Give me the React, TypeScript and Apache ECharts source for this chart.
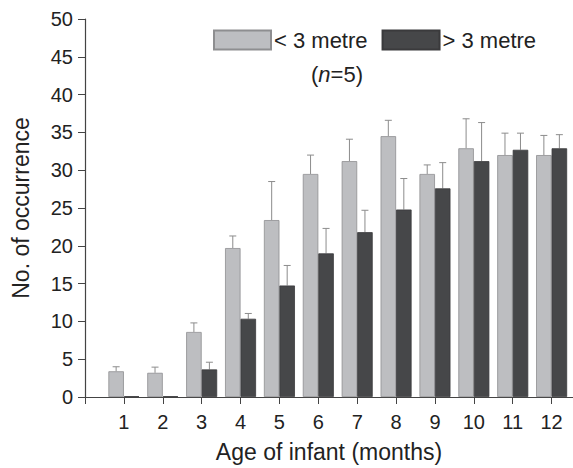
import React, { useEffect, useRef } from "react";
import * as echarts from "echarts";

const months = [1, 2, 3, 4, 5, 6, 7, 8, 9, 10, 11, 12];
const below3Mean = [3.4, 3.2, 8.6, 19.7, 23.4, 29.5, 31.2, 34.5, 29.5, 32.9, 32.0, 32.0];
const below3Top = [4.0, 3.95, 9.8, 21.3, 28.5, 32.0, 34.1, 36.6, 30.7, 36.8, 34.9, 34.6];
const above3Mean = [0.1, 0.1, 3.65, 10.35, 14.75, 19.0, 21.8, 24.8, 27.6, 31.2, 32.7, 32.9];
const above3Top = [0.1, 0.1, 4.6, 11.05, 17.4, 22.3, 24.7, 28.9, 31.0, 36.3, 34.9, 34.7];
const xTickValues = [0, 1, 2, 3, 4, 5, 6, 7, 8, 9, 10, 11, 12];
const seriesNames = ["< 3 metre", "> 3 metre"];

const FONT = "Liberation Sans, Arial, sans-serif";
const BAR_W = 15.5;

function errorSeries(means: number[], tops: number[], sign: number) {
  return {
    type: "custom",
    silent: true,
    z: 1,
    data: months.map((m, i) => [m, means[i], tops[i]]),
    renderItem: (params: any, api: any) => {
      const base = api.coord([api.value(0), api.value(1)]);
      const top = api.coord([api.value(0), api.value(2)]);
      const x = base[0] + sign * (BAR_W / 2);
      if (Math.abs(base[1] - top[1]) < 1) return { type: "group", children: [] };
      const style = { stroke: "#8c8c8c", lineWidth: 1 };
      return {
        type: "group",
        children: [
          { type: "line", shape: { x1: x, y1: base[1], x2: x, y2: top[1] }, style },
          { type: "line", shape: { x1: x - 3.5, y1: top[1], x2: x + 3.5, y2: top[1] }, style },
        ],
      };
    },
  };
}

export default function App() {
  const ref = useRef<HTMLDivElement>(null);
  useEffect(() => {
    if (!ref.current) return;
    const chart = echarts.init(ref.current, undefined, { renderer: "svg" });
    chart.setOption({
      animation: false,
      backgroundColor: "#ffffff",
      textStyle: { fontFamily: FONT },
      grid: { left: 85, right: 0, top: 19, bottom: 70.5, containLabel: false },
      legend: {
        left: 208,
        top: 24,
        itemWidth: 57,
        itemHeight: 19,
        itemGap: 14,
        icon: "rect",
        data: seriesNames,
        textStyle: { fontSize: 22, color: "#222", fontFamily: FONT, padding: [0, 0, 0, -2] },
      },
      graphic: [
        {
          type: "text",
          left: 311,
          top: 63,
          style: {
            text: "({i|n}=5)",
            fontSize: 22,
            fontFamily: FONT,
            fill: "#222",
            rich: { i: { fontStyle: "italic", fontSize: 22, fontFamily: FONT, fill: "#222" } },
          },
        },
      ],
      xAxis: {
        type: "value",
        min: 0,
        max: 12.55,
        interval: 1,
        name: "Age of infant (months)",
        nameLocation: "middle",
        nameGap: 43,
        nameTextStyle: { fontSize: 23, color: "#222", fontFamily: FONT },
        axisLine: { show: true, lineStyle: { color: "#444", width: 1.2 } },
        axisTick: { show: true, length: 7, customValues: xTickValues, lineStyle: { color: "#444" } },
        axisLabel: { customValues: months, fontSize: 20, color: "#222", margin: 15, fontFamily: FONT },
        splitLine: { show: false },
      },
      yAxis: {
        type: "value",
        min: 0,
        max: 50,
        interval: 5,
        name: "No. of occurrence",
        nameLocation: "middle",
        nameGap: 53,
        nameRotate: 90,
        nameTextStyle: { fontSize: 23, color: "#222", fontFamily: FONT },
        axisLine: { show: true, lineStyle: { color: "#444", width: 1.2 } },
        axisTick: { show: true, length: 7, inside: false, lineStyle: { color: "#444" } },
        axisLabel: { fontSize: 20, color: "#222", margin: 12, fontFamily: FONT },
        splitLine: { show: false },
      },
      series: [
        {
          name: seriesNames[0],
          type: "bar",
          barWidth: BAR_W,
          barGap: "0%",
          z: 2,
          itemStyle: { color: "#bdbec1", borderColor: "#8e8e90", borderWidth: 0.8 },
          data: months.map((m, i) => [m, below3Mean[i]]),
        },
        {
          name: seriesNames[1],
          type: "bar",
          barWidth: BAR_W,
          barGap: "0%",
          z: 2,
          itemStyle: { color: "#464749", borderColor: "#3a3a3c", borderWidth: 0.8 },
          data: months.map((m, i) => [m, above3Mean[i]]),
        },
        errorSeries(below3Mean, below3Top, -1),
        errorSeries(above3Mean, above3Top, 1),
      ],
    });
    return () => chart.dispose();
  }, []);
  return <div ref={ref} style={{ width: 573, height: 468, position: "absolute", left: 0, top: 0 }} />;
}
